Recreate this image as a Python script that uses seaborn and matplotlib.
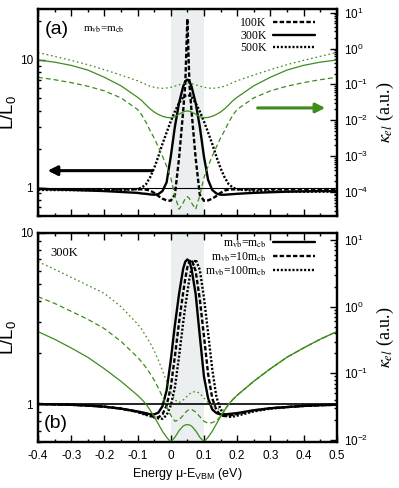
import matplotlib
matplotlib.use('Agg')
import matplotlib.pyplot as plt
from matplotlib.ticker import MultipleLocator, LogLocator, NullFormatter, FuncFormatter, FormatStrFormatter
import seaborn as sns

# energy mu - E_VBM (eV), shared by all curves
energy = [-0.4, -0.35, -0.3, -0.25, -0.2, -0.15, -0.1, -0.0875, -0.075, -0.0625,
          -0.05, -0.0375, -0.025, -0.0125, 0.0, 0.0125, 0.025, 0.0375, 0.04375, 0.05,
          0.05625, 0.0625, 0.075, 0.0875, 0.1, 0.1125, 0.125, 0.1375, 0.15, 0.1625,
          0.175, 0.1875, 0.2, 0.25, 0.3, 0.35, 0.4, 0.45, 0.5]

# panel (a): L/L0 for m_vb = m_cb at three temperatures
L_100K = [0.975, 0.972, 0.97, 0.97, 0.97, 0.97, 0.97, 0.97, 0.965, 0.95,
          0.91, 0.86, 0.82, 0.795, 0.79, 0.88, 1.7, 4.0, 6.5, 21.0,
          6.5, 4.0, 1.7, 0.88, 0.79, 0.795, 0.82, 0.86, 0.91, 0.95,
          0.965, 0.97, 0.97, 0.97, 0.97, 0.97, 0.97, 0.97, 0.97]
L_300K = [0.98, 0.97, 0.96, 0.95, 0.94, 0.925, 0.91, 0.90, 0.895, 0.885,
          0.88, 0.89, 0.94, 1.1, 1.75, 3.0, 4.6, 6.2, 6.8, 7.0,
          6.8, 6.2, 4.6, 3.0, 1.75, 1.15, 0.96, 0.90, 0.88, 0.88,
          0.885, 0.89, 0.895, 0.91, 0.92, 0.93, 0.935, 0.94, 0.94]
L_500K = [0.96, 0.958, 0.956, 0.955, 0.955, 0.96, 0.975, 1.0, 1.06, 1.2,
          1.42, 1.75, 2.2, 2.7, 3.3, 3.95, 4.6, 5.1, 5.25, 5.3,
          5.25, 5.1, 4.6, 3.95, 3.3, 2.7, 2.2, 1.75, 1.42, 1.2,
          1.06, 1.0, 0.97, 0.945, 0.935, 0.93, 0.93, 0.93, 0.93]

# panel (a): kappa_el (a.u.)
k_100K = [0.158, 0.135, 0.112, 0.089, 0.066, 0.042, 0.020, 0.0141, 0.0089, 0.0052,
          0.0032, 0.0018, 0.0010, 5.2e-4, 2.5e-4, 7.9e-5, 3.3e-5, 5.0e-5, 6.6e-5, 7.4e-5,
          6.6e-5, 5.0e-5, 3.3e-5, 7.9e-5, 2.5e-4, 5.2e-4, 0.0010, 0.0018, 0.0032, 0.0052,
          0.0089, 0.0141, 0.020, 0.042, 0.066, 0.089, 0.112, 0.135, 0.158]
k_300K = [0.479, 0.417, 0.339, 0.251, 0.158, 0.0912, 0.0437, 0.0355, 0.0269, 0.0209,
          0.0170, 0.0145, 0.0129, 0.0120, 0.0117, 0.0126, 0.0148, 0.0170, 0.0178, 0.0182,
          0.0178, 0.0170, 0.0148, 0.0126, 0.0117, 0.0120, 0.0129, 0.0145, 0.0170, 0.0209,
          0.0269, 0.0355, 0.0437, 0.0912, 0.158, 0.251, 0.339, 0.417, 0.479]
k_500K = [0.776, 0.603, 0.468, 0.355, 0.257, 0.182, 0.126, 0.112, 0.100, 0.0891,
          0.0832, 0.0794, 0.0776, 0.0794, 0.0832, 0.0891, 0.0977, 0.105, 0.108, 0.110,
          0.108, 0.105, 0.0977, 0.0891, 0.0832, 0.0794, 0.0776, 0.0794, 0.0832, 0.0891,
          0.100, 0.112, 0.126, 0.182, 0.257, 0.355, 0.468, 0.603, 0.776]

# panel (b): L/L0 at 300K for three valence band masses
L_m1 = [1.0, 0.995, 0.99, 0.98, 0.965, 0.94, 0.905, 0.895, 0.885, 0.872,
        0.87, 0.89, 0.97, 1.2, 1.8, 2.9, 4.4, 6.2, 6.8, 7.0,
        6.8, 6.2, 4.4, 2.5, 1.45, 1.08, 0.93, 0.885, 0.87, 0.87,
        0.875, 0.88, 0.885, 0.92, 0.945, 0.96, 0.975, 0.985, 0.99]
L_m10 = [1.0, 0.995, 0.99, 0.98, 0.965, 0.94, 0.9, 0.885, 0.87, 0.855,
         0.84, 0.835, 0.87, 0.98, 1.25, 1.9, 3.0, 4.5, 5.4, 6.3,
         6.8, 7.0, 6.0, 4.1, 2.5, 1.5, 1.08, 0.92, 0.86, 0.85,
         0.855, 0.865, 0.875, 0.915, 0.945, 0.96, 0.975, 0.985, 0.99]
L_m100 = [1.0, 0.995, 0.99, 0.98, 0.965, 0.94, 0.9, 0.88, 0.865, 0.85,
          0.835, 0.825, 0.82, 0.86, 0.98, 1.25, 1.9, 3.0, 3.7, 4.5,
          5.4, 6.2, 7.0, 6.1, 4.2, 2.6, 1.6, 1.1, 0.93, 0.86,
          0.84, 0.845, 0.855, 0.905, 0.94, 0.96, 0.975, 0.985, 0.99]

# panel (b): kappa_el (a.u.)
k_m1 = [0.422, 0.324, 0.240, 0.174, 0.117, 0.0759, 0.0468, 0.0407, 0.0347, 0.0282,
        0.0224, 0.0174, 0.0135, 0.0110, 0.00933, 0.0110, 0.0138, 0.0162, 0.0168, 0.0170,
        0.0168, 0.0162, 0.0138, 0.0110, 0.00933, 0.0110, 0.0135, 0.0174, 0.0224, 0.0282,
        0.0347, 0.0407, 0.0468, 0.0759, 0.117, 0.174, 0.240, 0.324, 0.422]
k_m10 = [1.41, 1.12, 0.851, 0.646, 0.468, 0.302, 0.174, 0.148, 0.123, 0.100,
         0.0794, 0.0603, 0.0447, 0.0316, 0.0234, 0.0191, 0.0200, 0.0234, 0.0257, 0.0275,
         0.0288, 0.0288, 0.0263, 0.0224, 0.0191, 0.0178, 0.0182, 0.0195, 0.0224, 0.0282,
         0.0347, 0.0407, 0.0468, 0.0759, 0.117, 0.174, 0.240, 0.324, 0.422]
k_m100 = [4.73, 3.63, 2.75, 2.09, 1.58, 1.0, 0.550, 0.457, 0.363, 0.288,
          0.219, 0.158, 0.110, 0.0759, 0.0525, 0.0398, 0.0363, 0.0398, 0.0427, 0.0457,
          0.0490, 0.0513, 0.0537, 0.0501, 0.0427, 0.0363, 0.0324, 0.0302, 0.0282, 0.0282,
          0.0347, 0.0407, 0.0468, 0.0759, 0.117, 0.174, 0.240, 0.324, 0.422]

labels_a = ['100K', '300K', '500K']
labels_b = [r'm$_{\rm vb}$=m$_{\rm cb}$', r'm$_{\rm vb}$=10m$_{\rm cb}$', r'm$_{\rm vb}$=100m$_{\rm cb}$']

sns.set_style('ticks')
plt.rcParams['font.family'] = ['Liberation Sans', 'DejaVu Sans']
plt.rcParams['mathtext.fontset'] = 'custom'
plt.rcParams['mathtext.rm'] = 'Liberation Sans'
plt.rcParams['mathtext.it'] = 'Liberation Sans:italic'
plt.rcParams['lines.scale_dashes'] = False
plt.rcParams['axes.edgecolor'] = 'black'
plt.rcParams['axes.linewidth'] = 1.6
plt.rcParams['xtick.color'] = 'black'
plt.rcParams['ytick.color'] = 'black'
plt.rcParams['text.color'] = 'black'
plt.rcParams['axes.labelcolor'] = 'black'

green = '#3d8c1c'
styles_black = ['-', (0, (3.2, 1.6)), (0, (1.5, 1.3))]
style_dash_g = (0, (3.5, 2.2))
style_dot_g = (0, (1.2, 2.0))

fig = plt.figure(figsize=(3.99, 4.88), dpi=100)
ax_a = fig.add_axes([0.0952, 0.5574, 0.7487, 0.4242])
ax_b = fig.add_axes([0.0952, 0.0943, 0.7487, 0.4283])
ax_a2 = ax_a.twinx()
ax_b2 = ax_b.twinx()

serif = ['Liberation Serif', 'DejaVu Serif']

for ax in (ax_a, ax_b):
    ax.axvspan(0, 0.1, color='#eceff0', lw=0, zorder=0)

# ---- panel (a)
sns.lineplot(x=energy, y=L_100K, ax=ax_a, color='black', lw=1.7, linestyle=styles_black[1], label=labels_a[0])
sns.lineplot(x=energy, y=L_300K, ax=ax_a, color='black', lw=1.7, linestyle='-', label=labels_a[1])
sns.lineplot(x=energy, y=L_500K, ax=ax_a, color='black', lw=1.7, linestyle=styles_black[2], label=labels_a[2])
ax_a.axhline(1, color='black', lw=0.8, zorder=1)
sns.lineplot(x=energy, y=k_100K, ax=ax_a2, color=green, lw=0.9, linestyle=style_dash_g)
sns.lineplot(x=energy, y=k_300K, ax=ax_a2, color=green, lw=0.9, linestyle='-')
sns.lineplot(x=energy, y=k_500K, ax=ax_a2, color=green, lw=0.9, linestyle=style_dot_g)

# ---- panel (b)
sns.lineplot(x=energy, y=L_m1, ax=ax_b, color='black', lw=1.7, linestyle='-', label=labels_b[0])
sns.lineplot(x=energy, y=L_m10, ax=ax_b, color='black', lw=1.7, linestyle=styles_black[1], label=labels_b[1])
sns.lineplot(x=energy, y=L_m100, ax=ax_b, color='black', lw=1.7, linestyle=styles_black[2], label=labels_b[2])
ax_b.axhline(1, color='black', lw=1.2, zorder=1)
sns.lineplot(x=energy, y=k_m1, ax=ax_b2, color=green, lw=0.9, linestyle='-')
sns.lineplot(x=energy, y=k_m10, ax=ax_b2, color=green, lw=0.9, linestyle=style_dash_g)
sns.lineplot(x=energy, y=k_m100, ax=ax_b2, color=green, lw=0.9, linestyle=style_dot_g)

xfmt = FuncFormatter(lambda v, p: f'{round(v, 2) + 0.0:g}')
for ax, ax2, ylim_l, ylim_r in ((ax_a, ax_a2, (0.6, 25), (10 ** -4.67, 10 ** 1.103)),
                                (ax_b, ax_b2, (0.6, 10), (10 ** -2.03, 10 ** 1.105))):
    ax.set_xlim(-0.4, 0.5)
    ax.set_yscale('log')
    ax2.set_yscale('log')
    ax.set_ylim(*ylim_l)
    ax2.set_ylim(*ylim_r)
    ax.xaxis.set_major_locator(MultipleLocator(0.1))
    ax.xaxis.set_minor_locator(MultipleLocator(0.05))
    ax.xaxis.set_major_formatter(xfmt)
    ax.yaxis.set_major_locator(LogLocator(base=10, numticks=10))
    ax.yaxis.set_minor_locator(LogLocator(base=10, subs=range(2, 10), numticks=10))
    ax.yaxis.set_major_formatter(FormatStrFormatter('%g'))
    ax.yaxis.set_minor_formatter(NullFormatter())
    ax2.yaxis.set_major_locator(LogLocator(base=10, numticks=12))
    ax2.yaxis.set_minor_locator(LogLocator(base=10, subs=range(2, 10), numticks=12))
    ax2.yaxis.set_minor_formatter(NullFormatter())
    ax.tick_params(which='both', direction='in', top=True, right=False, labelsize=8.5, width=1.0)
    ax.tick_params(which='major', length=5)
    ax.tick_params(which='minor', length=2.5)
    ax.tick_params(axis='x', which='major', pad=6)
    ax.tick_params(axis='y', which='major', pad=3.5)
    ax2.tick_params(which='both', direction='in', right=True, labelsize=8.5, width=1.0)
    ax2.tick_params(which='major', length=5, pad=5)
    ax2.tick_params(which='minor', length=2.5)
    ax.set_ylabel(r'L/L$_0$', fontsize=13.5, labelpad=1)
    ax2.set_ylabel(r'$\kappa_{el}$ (a.u.)', fontsize=13, family=serif, math_fontfamily='stix', labelpad=5)
    ax.set_xlabel('')

ax_a.tick_params(labelbottom=False)
ax_b.set_xlabel('Energy μ-E$_{\\rm VBM}$ (eV)', fontsize=9, labelpad=3)

# legends
for ax, ax2, labels, anchor in ((ax_a, ax_a2, labels_a, (0.955, 1.0)), (ax_b, ax_b2, labels_b, (0.955, 1.02))):
    handles = ax.get_lines()[:3]
    if ax.get_legend():
        ax.get_legend().remove()
    leg = ax2.legend(handles, labels, loc='upper right', bbox_to_anchor=anchor, frameon=False,
                     markerfirst=False, handlelength=3.6, handletextpad=0.5, labelspacing=0.05,
                     prop={'family': serif, 'size': 8.5}, borderaxespad=0.3)
    for t in leg.get_texts():
        t.set_math_fontfamily('stix')

# annotations
ax_a.text(0.064, 0.9, '(a)', transform=ax_a.transAxes, fontsize=14, va='center', ha='center')
ax_a.text(0.15, 0.9, r'm$_{\rm vb}$=m$_{\rm cb}$', transform=ax_a.transAxes, fontsize=8,
          va='center', ha='left', family=serif, math_fontfamily='stix')
ax_b.text(0.04, 0.904, '300K', transform=ax_b.transAxes, fontsize=9, va='center', ha='left', family=serif)
ax_b.text(0.06, 0.09, '(b)', transform=ax_b.transAxes, fontsize=14, va='center', ha='center')

ax_a2.annotate('', xy=(0.023, 0.219), xytext=(0.392, 0.219), xycoords='axes fraction',
               arrowprops=dict(arrowstyle='-|>', lw=2.2, color='black', mutation_scale=14))
ax_a2.annotate('', xy=(0.971, 0.522), xytext=(0.726, 0.522), xycoords='axes fraction',
               arrowprops=dict(arrowstyle='-|>', lw=2.2, color=green, mutation_scale=14))

fig.savefig('out.png', dpi=100)
